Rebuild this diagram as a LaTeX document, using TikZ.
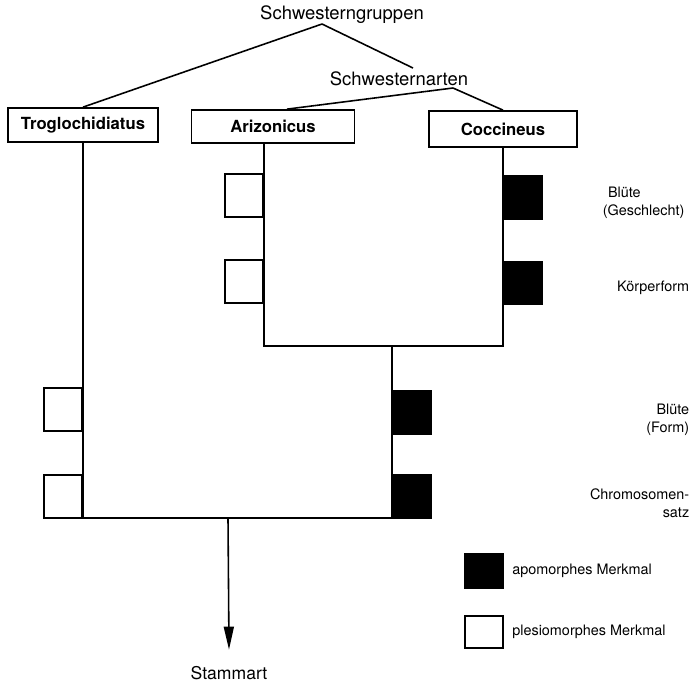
\documentclass[tikz,border=0pt]{standalone}
\usepackage{fontspec}
\setmainfont{TeX Gyre Heros}
\usetikzlibrary{arrows.meta,positioning,calc}

\begin{document}
\begin{tikzpicture}[
    x=0.02cm, y=-0.02cm,
    >={Triangle[length=4.6mm,width=2mm]},
    line width=0.9pt,
    grouplabel/.style={font=\fontsize{10.5}{12}\selectfont, inner sep=1pt},
    taxon/.style={draw, line width=1pt, font=\fontsize{9.5}{11}\selectfont\bfseries, inner sep=0pt, minimum height=0.68cm},
    merkmal/.style={font=\fontsize{8.2}{10.2}\selectfont, inner sep=0pt},
    apo/.style={draw, fill=black, minimum width=0.76cm, minimum height=0.86cm, inner sep=0pt},
    plesio/.style={draw, fill=white, minimum width=0.76cm, minimum height=0.86cm, inner sep=0pt}
]
\useasboundingbox (0,0) rectangle (698,684);

% Gruppen und Arten
\node[grouplabel] (gruppen) at (342,15) {Schwesterngruppen};
\node[grouplabel] (arten) at (399,79) {Schwesternarten};
\coordinate (gJ) at (322,24);
\coordinate (gR) at (413,68);
\coordinate (aJ) at (453,88);

\node[taxon, minimum width=3cm] (trog) at (83,125) {Troglochidiatus};
\node[taxon, minimum width=3.26cm, minimum height=0.66cm] (ariz) at (273,126.5) {Arizonicus};
\node[taxon, minimum width=2.96cm, minimum height=0.72cm] (cocc) at (503,129) {Coccineus};

\draw (gJ) -- (trog.north);
\draw (gJ) -- (gR);
\draw (aJ) -- ($(ariz.north)+(14,0)$);
\draw (aJ) -- (cocc.north);

% Stammbaum
\coordinate (jA) at (264,346);
\coordinate (jC) at (503,346);
\coordinate (jM) at (392,346);
\coordinate (bR) at (392,518);
\coordinate (root) at (228,518);

\draw (jA |- ariz.south) -- (jA) -- (jC) -- (cocc.south);
\draw (trog.south) -- (trog.south |- bR) -- (bR) -- (jM);

\node[font=\fontsize{10}{12}\selectfont, inner sep=1pt] (stamm) at (229,673) {Stammart};
\draw[->] (root) -- ([yshift=8pt]stamm.north);

% Merkmale
\node[plesio, anchor=east] (a1) at (264,195.5) {};
\node[plesio, anchor=east] (a2) at (264,281.5) {};
\node[apo, anchor=west] (c1) at (503,197.5) {};
\node[apo, anchor=west] (c2) at (503,283) {};
\node[plesio, anchor=east] (t1) at (83,409.5) {};
\node[plesio, anchor=east] (t2) at (83,496.5) {};
\node[apo, anchor=west] (m1) at (392,412.5) {};
\node[apo, anchor=west] (m2) at (392,496.5) {};

\node[merkmal, anchor=west, align=left] (bluete1) at (602,203) {\hspace{3pt}Blüte\\(Geschlecht)};
\node[merkmal, anchor=east] (koerper) at (690,288) {Körperform};
\node[merkmal, anchor=east, align=right] (bluete2) at (690,420) {Blüte\\(Form)};
\node[merkmal, anchor=east, align=right] (chromo) at (690,503) {Chromosomen-\\satz};

% Legende
\node[apo, minimum height=0.68cm, anchor=north west] (legapo) at (464,553) {};
\node[merkmal, right=1.6mm of legapo] (legapotext) {apomorphes Merkmal};
\node[plesio, minimum height=0.64cm, anchor=north west] (legplesio) at (464,615) {};
\node[merkmal, right=1.6mm of legplesio] (legplesiotext) {plesiomorphes Merkmal};
\end{tikzpicture}
\end{document}
